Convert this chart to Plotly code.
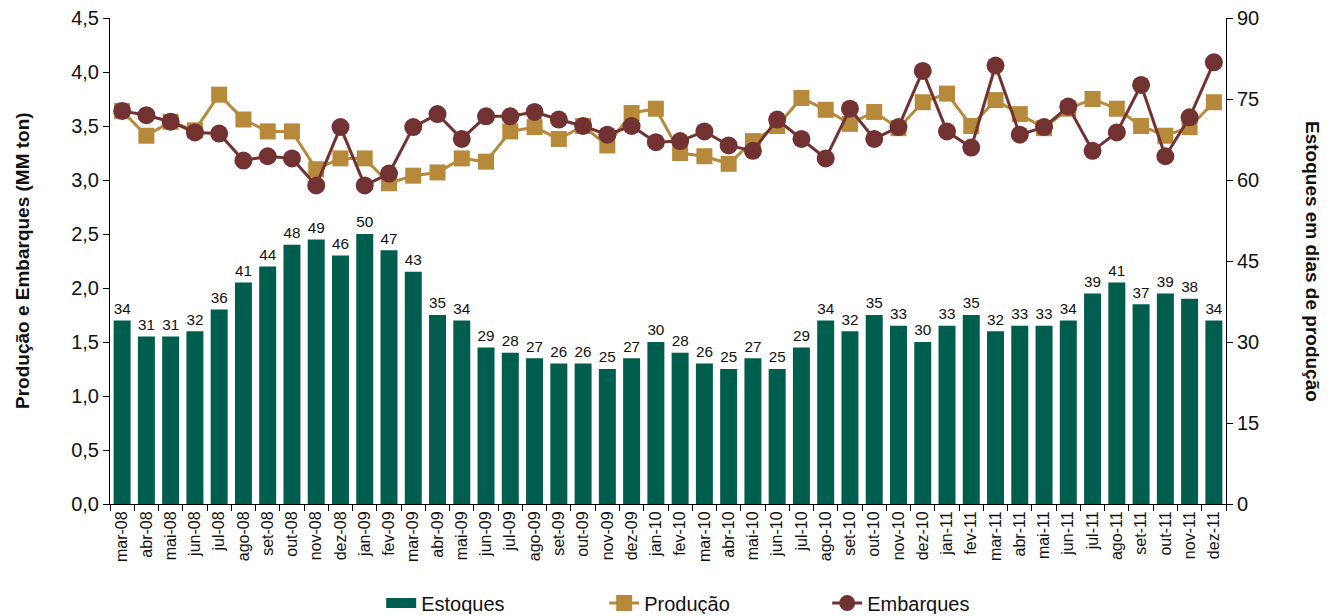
import plotly.graph_objects as go

months = [
    "mar-08", "abr-08", "mai-08", "jun-08", "jul-08", "ago-08", "set-08", "out-08", "nov-08", "dez-08",
    "jan-09", "fev-09", "mar-09", "abr-09", "mai-09", "jun-09", "jul-09", "ago-09", "set-09", "out-09",
    "nov-09", "dez-09", "jan-10", "fev-10", "mar-10", "abr-10", "mai-10", "jun-10", "jul-10", "ago-10",
    "set-10", "out-10", "nov-10", "dez-10", "jan-11", "fev-11", "mar-11", "abr-11", "mai-11", "jun-11",
    "jul-11", "ago-11", "set-11", "out-11", "nov-11", "dez-11",
]

# stock in days of production (right axis)
estoques = [
    34, 31, 31, 32, 36, 41, 44, 48, 49, 46,
    50, 47, 43, 35, 34, 29, 28, 27, 26, 26,
    25, 27, 30, 28, 26, 25, 27, 25, 29, 34,
    32, 35, 33, 30, 33, 35, 32, 33, 33, 34,
    39, 41, 37, 39, 38, 34,
]

# production, MM ton (left axis)
producao = [
    3.64, 3.41, 3.54, 3.46, 3.79, 3.56, 3.45, 3.45, 3.10, 3.20,
    3.20, 2.97, 3.04, 3.07, 3.20, 3.17, 3.45, 3.49, 3.38, 3.50,
    3.32, 3.62, 3.66, 3.25, 3.22, 3.15, 3.36, 3.50, 3.76, 3.65,
    3.52, 3.63, 3.48, 3.72, 3.80, 3.50, 3.74, 3.61, 3.48, 3.66,
    3.75, 3.66, 3.50, 3.41, 3.49, 3.72,
]

# shipments, MM ton (left axis)
embarques = [
    3.64, 3.60, 3.54, 3.44, 3.43, 3.18, 3.22, 3.20, 2.95, 3.49,
    2.95, 3.06, 3.49, 3.61, 3.38, 3.59, 3.59, 3.63, 3.56, 3.50,
    3.42, 3.50, 3.35, 3.36, 3.45, 3.32, 3.27, 3.56, 3.38, 3.20,
    3.66, 3.38, 3.49, 4.01, 3.45, 3.30, 4.06, 3.42, 3.49, 3.68,
    3.27, 3.44, 3.88, 3.22, 3.58, 4.09,
]

FONT = "Arial, Liberation Sans, sans-serif"
GREEN = "#005E4E"
GOLD = "#B6893B"
BROWN = "#733232"

fig = go.Figure()
fig.add_trace(go.Bar(
    x=months, y=estoques, name="Estoques", yaxis="y2", showlegend=False,
    marker=dict(color=GREEN, line=dict(width=0)),
    text=[str(v) for v in estoques], textposition="outside",
    textfont=dict(size=17, color="#111111", family=FONT),
    cliponaxis=False,
))
# legend proxy so the bar swatch is a wide block like the original
fig.add_trace(go.Scatter(
    x=[None], y=[None], name="Estoques", mode="lines",
    line=dict(color=GREEN, width=13),
))
fig.add_trace(go.Scatter(
    x=months, y=producao, name="Produção", mode="lines+markers",
    line=dict(color=GOLD, width=3),
    marker=dict(symbol="square", size=16, color=GOLD),
))
fig.add_trace(go.Scatter(
    x=months, y=embarques, name="Embarques", mode="lines+markers",
    line=dict(color=BROWN, width=3),
    marker=dict(symbol="circle", size=18, color=BROWN),
))

# page body has an 8px margin, so the figure is a bit smaller than the window
fig.update_layout(
    width=1327, height=606,
    margin=dict(l=102, r=109, t=10, b=110),
    plot_bgcolor="white", paper_bgcolor="white",
    font=dict(family=FONT, color="#111111"),
    separators=",.",
    bargap=0.3,
    showlegend=True,
    legend=dict(
        orientation="h", x=0.243, xanchor="left",
        yref="container", y=0.018, yanchor="middle",
        font=dict(size=20, family=FONT), entrywidth=178,
    ),
    xaxis=dict(
        type="category", range=[-0.5, len(months) - 0.5], automargin=False,
        tickangle=-90, tickfont=dict(size=16),
        showline=True, linecolor="black", linewidth=1,
        ticks="outside", ticklen=6, tickcolor="black", tickson="boundaries",
        showgrid=False,
    ),
    yaxis=dict(
        range=[0, 4.5], dtick=0.5, tickformat=".1f", automargin=False,
        ticklabeloverflow="allow",
        tickfont=dict(size=20), showline=True, linecolor="black", linewidth=1,
        ticks="outside", ticklen=6, tickcolor="black", showgrid=False, zeroline=False,
    ),
    yaxis2=dict(
        range=[0, 90], dtick=15, overlaying="y", side="right", automargin=False,
        ticklabeloverflow="allow",
        tickfont=dict(size=20), showline=True, linecolor="black", linewidth=1,
        ticks="outside", ticklen=6, tickcolor="black", showgrid=False, zeroline=False,
    ),
    annotations=[
        dict(
            text="<b>Produção e Embarques (MM ton)</b>", textangle=-90,
            xref="paper", yref="paper", x=0.0, xshift=-88, y=0.5,
            xanchor="center", yanchor="middle",
            showarrow=False, font=dict(size=19, family=FONT),
        ),
        dict(
            text="<b>Estoques em dias de produção</b>", textangle=90,
            xref="paper", yref="paper", x=1.0, xshift=87, y=0.5,
            xanchor="center", yanchor="middle",
            showarrow=False, font=dict(size=19, family=FONT),
        ),
    ],
)

fig.write_html("out.html")
